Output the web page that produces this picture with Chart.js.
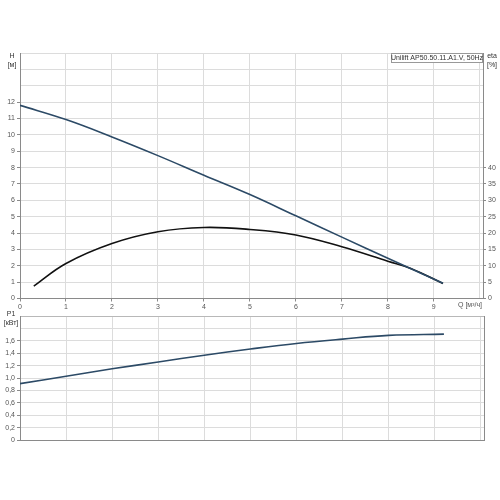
<!DOCTYPE html>
<html>
<head>
    <title>Unilift AP50.50.11.A1.V</title>
    <script src="https://cdn.jsdelivr.net/npm/chart.js"></script>
    <style>
        body { margin: 0; background: #fff; }
        #wrap { position: relative; width: 500px; height: 500px; }
        canvas { position: absolute; left: 0; }
    </style>
</head>
<body>
<div id="wrap">
    <canvas id="topChart" width="500" height="312" style="top:0"></canvas>
    <canvas id="botChart" width="500" height="190" style="top:310px"></canvas>
</div>
<script>
    // Q-H curve
    const qH = [0, 1, 2, 3, 4, 5, 6, 7, 8, 9.2];
    const hVals = [11.8, 10.93, 9.87, 8.73, 7.53, 6.35, 5.05, 3.75, 2.46, 0.93];
    // efficiency curve
    const qEta = [0.3, 1, 2, 3, 4, 5, 6, 7, 8, 8.5, 9.2];
    const etaVals = [3.8, 10.7, 16.8, 20.4, 21.7, 21.1, 19.4, 15.8, 11.4, 9.2, 4.6];
    // power curve
    const qP = [0, 1, 2, 3, 4, 5, 6, 7, 8, 9.2];
    const pVals = [0.91, 1.03, 1.15, 1.26, 1.37, 1.47, 1.56, 1.63, 1.69, 1.71];

    const title = "Unilift AP50.50.11.A1.V, 50Hz";
    const xLabel = "Q [м³/ч]";

    const font = { family: "'Liberation Sans', Arial, sans-serif", size: 7 };
    const txtColor = "#555";
    const gridColor = "#dcdcdc";
    const axisColor = "#8a8a8a";
    const lineBlue = "#2c4a66";

    function pts(xs, ys) {
        return xs.map((x, i) => ({ x: x, y: ys[i] }));
    }

    function fixW(w) { return function (s) { s.width = w; }; }
    function fixH(h) { return function (s) { s.height = h; }; }
    // only show the small tick marks where there is a label
    function tickUpTo(lim) {
        return ctx => (ctx.tick && ctx.tick.value <= lim + 0.01) ? axisColor : "rgba(0,0,0,0)";
    }

    const labels = {
        id: "labels",
        afterDraw(chart) {
            const c = chart.ctx;
            const a = chart.chartArea;
            c.save();
            c.font = "7px 'Liberation Sans', Arial, sans-serif";
            c.fillStyle = "#333";
            c.textBaseline = "middle";
            c.textAlign = "center";
            chart.options.plugins.labels.texts.forEach(t => {
                c.fillText(t[0], t[1], t[2]);
            });
            if (chart.options.plugins.labels.box) {
                const w = 92, h = 10;
                c.fillStyle = "#fff";
                c.fillRect(a.right - w, a.top, w, h);
                c.strokeStyle = "#999";
                c.lineWidth = 1;
                c.strokeRect(a.right - w + 0.5, a.top + 0.5, w - 1, h - 1);
                c.fillStyle = "#333";
                c.fillText(title, a.right - w / 2, a.top + h / 2 + 0.5);
                c.textAlign = "right";
                c.fillStyle = txtColor;
                c.fillText(xLabel, a.right - 1, a.bottom + 7);
            }
            c.restore();
        }
    };

    new Chart(document.getElementById("topChart"), {
        type: "line",
        data: {
            datasets: [{
                data: pts(qH, hVals),
                yAxisID: "y",
                borderColor: lineBlue,
                borderWidth: 1.6,
                pointRadius: 0,
                tension: 0.4
            }, {
                data: pts(qEta, etaVals),
                yAxisID: "y2",
                borderColor: "#111",
                borderWidth: 1.6,
                pointRadius: 0,
                tension: 0.4
            }]
        },
        options: {
            responsive: false,
            animation: false,
            layout: { padding: { top: 53 } },
            plugins: {
                legend: { display: false },
                tooltip: { enabled: false },
                labels: {
                    box: true,
                    texts: [["H", 12, 56], ["[м]", 12, 65], ["eta", 492, 56], ["[%]", 492, 65]]
                }
            },
            scales: {
                x: {
                    type: "linear", min: 0, max: 10.07,
                    afterFit: fixH(13.5),
                    ticks: {
                        stepSize: 1, includeBounds: false, font: font, color: txtColor,
                        padding: 1, maxRotation: 0,
                        callback: v => v <= 9 ? v : ""
                    },
                    grid: { color: gridColor, tickLength: 3, tickColor: tickUpTo(9) },
                    border: { color: axisColor }
                },
                y: {
                    position: "left", min: 0, max: 15,
                    afterFit: fixW(20),
                    ticks: {
                        stepSize: 1, font: font, color: txtColor, padding: 2,
                        callback: v => v <= 12 ? v : ""
                    },
                    grid: { color: gridColor, tickLength: 3, tickColor: tickUpTo(12) },
                    border: { color: axisColor }
                },
                y2: {
                    position: "right", min: 0, max: 75,
                    afterFit: fixW(17),
                    ticks: {
                        stepSize: 5, font: font, color: txtColor, padding: 2,
                        callback: v => v <= 40 ? v : ""
                    },
                    grid: { drawOnChartArea: false, tickLength: 3, color: tickUpTo(40) },
                    border: { color: axisColor }
                }
            }
        },
        plugins: [labels]
    });

    new Chart(document.getElementById("botChart"), {
        type: "line",
        data: {
            datasets: [{
                data: pts(qP, pVals),
                yAxisID: "y",
                borderColor: lineBlue,
                borderWidth: 1.6,
                pointRadius: 0,
                tension: 0.4
            }]
        },
        options: {
            responsive: false,
            animation: false,
            layout: { padding: { top: 2 } },
            plugins: {
                legend: { display: false },
                tooltip: { enabled: false },
                labels: {
                    box: false,
                    texts: [["P1", 11, 4], ["[кВт]", 11, 13]]
                }
            },
            scales: {
                x: {
                    type: "linear", min: 0, max: 10.07,
                    afterFit: fixH(60),
                    ticks: { display: false, stepSize: 1, includeBounds: false },
                    grid: { color: gridColor, drawTicks: false },
                    border: { color: axisColor }
                },
                y: {
                    position: "left", min: 0, max: 2,
                    afterFit: fixW(20),
                    ticks: {
                        stepSize: 0.2, font: font, color: txtColor, padding: 2,
                        callback: v => v > 1.61 ? "" : (v === 0 ? "0" : v.toFixed(1).replace(".", ","))
                    },
                    grid: {
                        tickLength: 3, tickColor: tickUpTo(1.6),
                        color: ctx => (ctx.tick && ctx.tick.value > 1.99) ? "#b8b8b8" : gridColor
                    },
                    border: { color: axisColor }
                },
                y2: {
                    position: "right", min: 0, max: 2,
                    afterFit: fixW(16),
                    ticks: { display: false },
                    grid: { drawOnChartArea: false, drawTicks: false },
                    border: { color: axisColor }
                }
            }
        },
        plugins: [labels]
    });
</script>
</body>
</html>
